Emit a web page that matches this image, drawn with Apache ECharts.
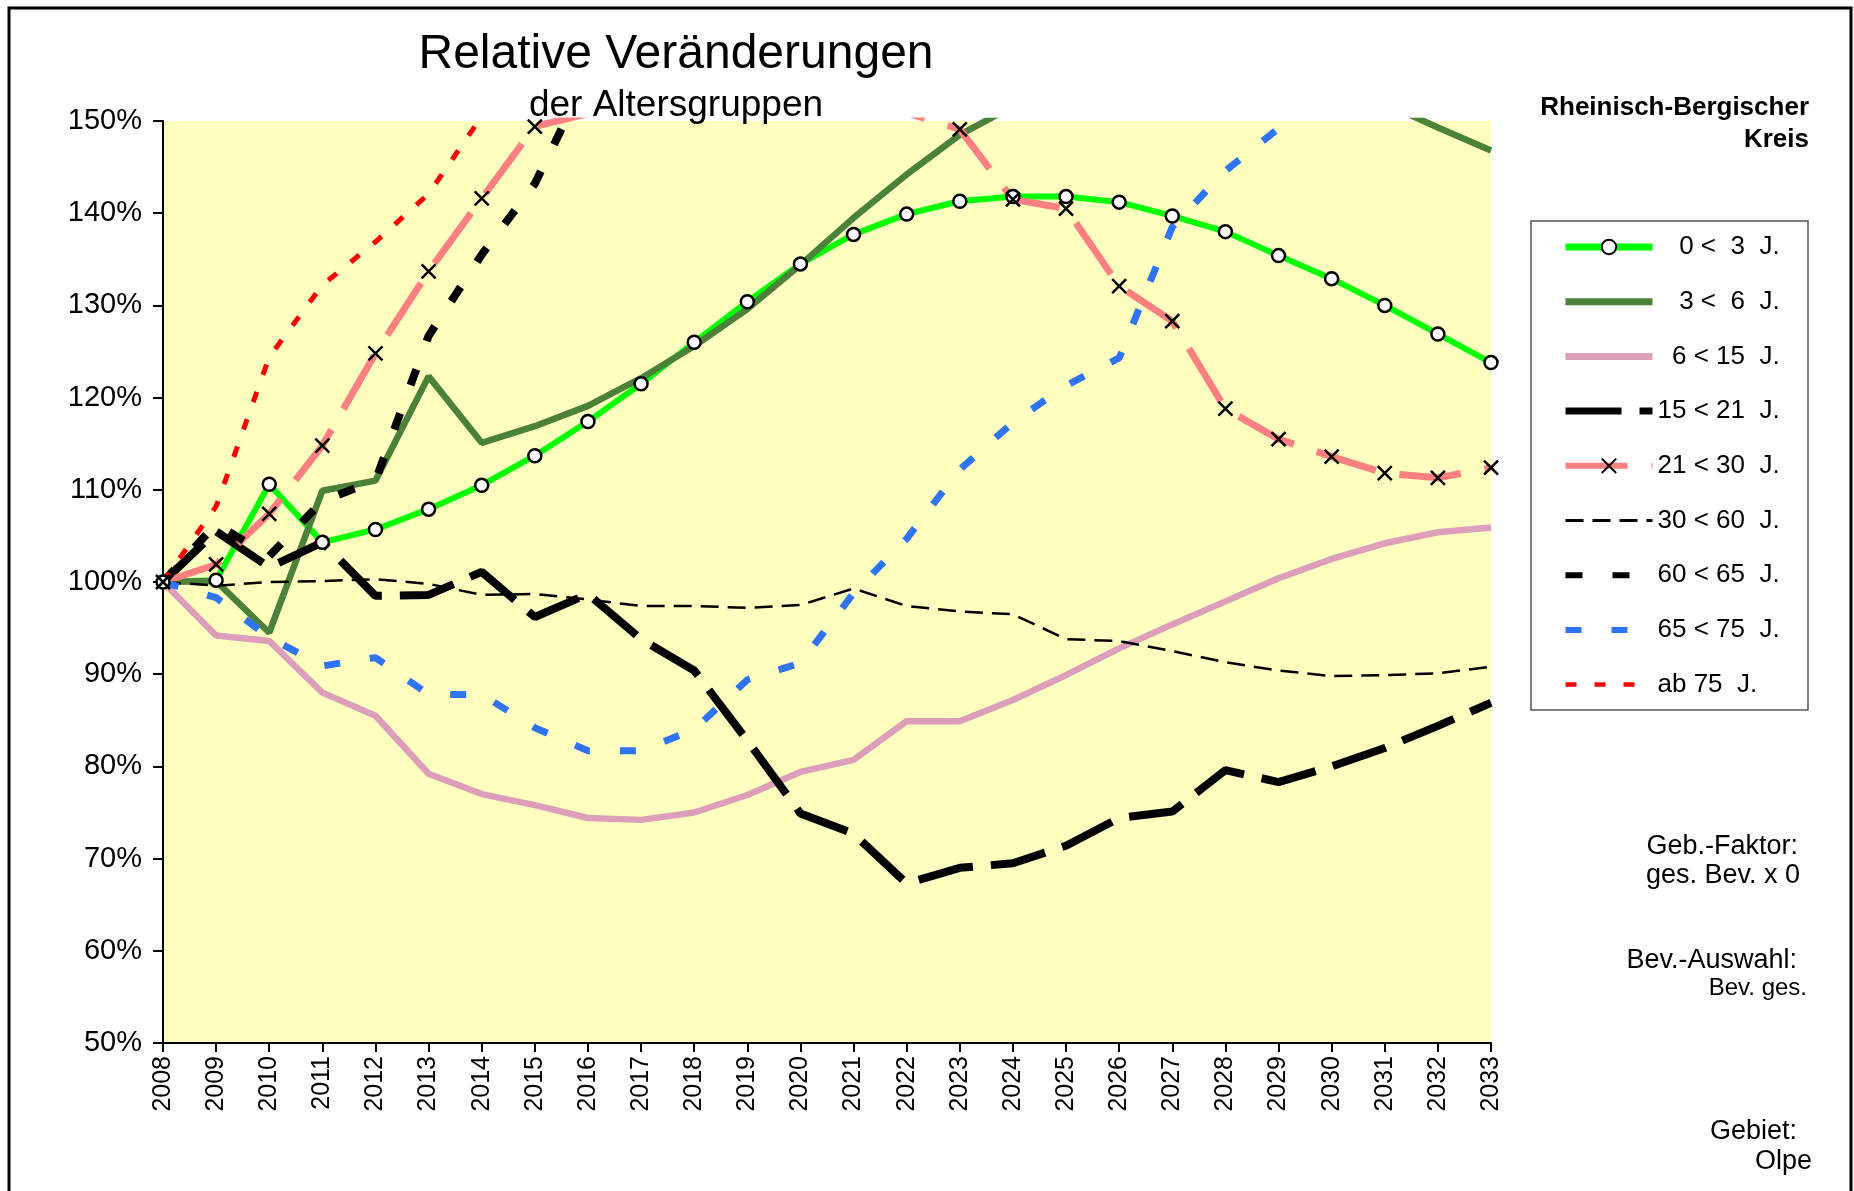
<!DOCTYPE html>
<html>
<head>
    <meta charset="UTF-8">
    <title>Relative Veränderungen der Altersgruppen</title>
    <script src="https://cdn.jsdelivr.net/npm/echarts@6/dist/echarts.min.js"></script>
    <style>
        *{margin:0;padding:0;}
        body,html{width:100%;height:100%;background:#fff;}
        #main{width:1854px;height:1191px;}
    </style>
</head>
<body>
<div id="main"></div>
<script>
    // Jahre
    var years = ['2008','2009','2010','2011','2012','2013','2014','2015','2016','2017','2018','2019','2020',
        '2021','2022','2023','2024','2025','2026','2027','2028','2029','2030','2031','2032','2033'];

    // relative Veraenderung in % (2008 = 100)
    var alter_0_3   = [100, 100.2, 110.6, 104.3, 105.7, 107.9, 110.5, 113.7, 117.4, 121.5, 126.0, 130.4, 134.5,
        137.7, 139.9, 141.3, 141.8, 141.8, 141.2, 139.7, 138.0, 135.4, 132.9, 130.0, 126.9, 123.8];
    var alter_3_6   = [100, 100.1, 94.5, 109.9, 111.0, 122.3, 115.1, 116.9, 119.1, 122.1, 125.6, 129.6, 134.4,
        139.5, 144.2, 148.5, 151.6, 153.5, 155.0, 155.5, 155.3, 154.6, 153.4, 151.9, 149.3, 146.8];
    var alter_6_15  = [100, 94.2, 93.6, 88.0, 85.5, 79.2, 77.0, 75.8, 74.4, 74.2, 75.0, 76.9, 79.4,
        80.7, 84.9, 84.9, 87.2, 89.9, 92.8, 95.4, 97.9, 100.4, 102.5, 104.2, 105.4, 105.9];
    var alter_15_21 = [100, 105.5, 101.6, 104.3, 98.5, 98.6, 101.1, 96.2, 98.7, 93.8, 90.4, 82.8, 74.9,
        72.7, 67.3, 69.0, 69.5, 71.4, 74.4, 75.1, 79.6, 78.3, 80.0, 82.0, 84.4, 86.9];
    var alter_21_30 = [100, 101.9, 107.4, 114.8, 124.8, 133.7, 141.6, 149.4, 150.8, 153.0, 155.0, 156.0, 155.5,
        153.5, 150.9, 149.1, 141.5, 140.5, 132.1, 128.3, 118.8, 115.5, 113.6, 111.8, 111.3, 112.4];
    var alter_30_60 = [100, 99.6, 100.0, 100.1, 100.3, 99.8, 98.6, 98.7, 98.1, 97.4, 97.4, 97.2, 97.5,
        99.3, 97.4, 96.8, 96.5, 93.8, 93.6, 92.5, 91.3, 90.4, 89.8, 89.9, 90.1, 90.8];
    var alter_60_65 = [100, 106.3, 102.8, 108.8, 111.0, 126.7, 135.5, 143.2, 155, 160, 164, 167, 169,
        171, 172, 173, 174, 175, 175, 176, 176, 177, 177, 178, 178, 178];
    var alter_65_75 = [100, 98.3, 94.0, 90.9, 91.8, 87.8, 87.8, 84.2, 81.7, 81.7, 84.0, 89.4, 91.2,
        98.8, 104.7, 112.2, 117.3, 121.3, 124.3, 138.5, 144.6, 149.2, 154, 158, 161, 164];
    var alter_ab_75 = [100, 108.2, 124.4, 132.2, 136.9, 142.1, 150.5, 158, 164, 169, 173, 176, 178,
        180, 182, 184, 186, 188, 190, 191, 192, 193, 194, 195, 196, 197];

    var yTicks = [50, 150, 10];

    // Legendentexte
    var legendLabels = {
        '0 < 3 J.':   '   0 <  3  J.',
        '3 < 6 J.':   '   3 <  6  J.',
        '6 < 15 J.':  '  6 < 15  J.',
        '15 < 21 J.': '15 < 21  J.',
        '21 < 30 J.': '21 < 30  J.',
        '30 < 60 J.': '30 < 60  J.',
        '60 < 65 J.': '60 < 65  J.',
        '65 < 75 J.': '65 < 75  J.',
        'ab 75 J.':   'ab 75  J.'
    };

    var FONT = '"Liberation Sans", Arial, Helvetica, sans-serif';
    var CROSS = 'path://M0,0L10,10M10,0L0,10';

    function linie(name, data, color, width, dash, symbol) {
        var s = {
            name: name,
            type: 'line',
            data: data,
            clip: true,
            silent: true,
            animation: false,
            symbol: 'none',
            lineStyle: {color: color, width: width, type: dash || 'solid'},
            itemStyle: {color: color}
        };
        if (symbol) {
            s.symbol = symbol;
            s.symbolSize = symbol === CROSS ? 14 : 13;
            s.showSymbol = true;
            s.itemStyle = {color: '#fff', borderColor: '#000', borderWidth: 2.5};
        }
        return s;
    }

    function legendItem(name, width, withSymbol) {
        var d = {name: name, lineStyle: {width: width}};
        if (!withSymbol) d.itemStyle = {opacity: 0};
        return d;
    }

    function txt(text, x, y, size, align, bold) {
        return {
            type: 'text', x: x, y: y, silent: true,
            style: {
                text: text, fill: '#000',
                font: (bold ? 'bold ' : '') + size + 'px ' + FONT,
                align: align, verticalAlign: 'middle',
                textAlign: align, textVerticalAlign: 'middle'
            }
        };
    }

    var myChart = echarts.init(document.getElementById('main'));

    var option = {
        backgroundColor: '#fff',
        animation: false,
        grid: {
            left: 163, top: 121, width: 1328, height: 922,
            show: true, backgroundColor: '#FFFFC0', borderWidth: 0
        },
        xAxis: {
            type: 'category',
            data: years,
            boundaryGap: false,
            axisLine: {lineStyle: {color: '#000', width: 2}},
            axisTick: {show: true, length: 9, lineStyle: {color: '#000', width: 2}},
            axisLabel: {rotate: 90, margin: 13, color: '#000', fontSize: 25, fontFamily: FONT},
            splitLine: {show: false}
        },
        yAxis: {
            type: 'value',
            min: yTicks[0], max: yTicks[1], interval: yTicks[2],
            axisLine: {show: true, lineStyle: {color: '#000', width: 2}},
            axisTick: {show: true, length: 10, lineStyle: {color: '#000', width: 2}},
            axisLabel: {formatter: '{value}%', margin: 21, color: '#000', fontSize: 29, fontFamily: FONT},
            splitLine: {show: false}
        },
        legend: {
            orient: 'vertical',
            left: 1562, top: 234,
            padding: 0,
            itemWidth: 87, itemHeight: 18, itemGap: 28.7,
            selectedMode: false,
            textStyle: {color: '#000', fontSize: 26, fontFamily: FONT},
            formatter: function (name) { return legendLabels[name]; },
            data: [
                legendItem('0 < 3 J.', 7, true),
                legendItem('3 < 6 J.', 7, false),
                legendItem('6 < 15 J.', 7, false),
                legendItem('15 < 21 J.', 7, false),
                legendItem('21 < 30 J.', 6, true),
                legendItem('30 < 60 J.', 3, false),
                legendItem('60 < 65 J.', 6, false),
                legendItem('65 < 75 J.', 6, false),
                legendItem('ab 75 J.', 4.5, false)
            ]
        },
        graphic: [
            // Rahmen
            {type: 'rect', silent: true, shape: {x: 9, y: 8, width: 1842, height: 1260},
                style: {fill: 'none', stroke: '#000', lineWidth: 3}},
            {type: 'rect', silent: true, shape: {x: 1531, y: 221, width: 277, height: 489},
                style: {fill: '#fff', stroke: '#555', lineWidth: 1.5}, z: -1},
            txt('Relative Veränderungen', 676, 55, 48, 'center'),
            txt('der Altersgruppen', 676, 106, 37, 'center'),
            txt('Rheinisch-Bergischer', 1809, 108, 26, 'right', true),
            txt('Kreis', 1809, 140, 26, 'right', true),
            txt('Geb.-Faktor:', 1798, 847, 27, 'right'),
            txt('ges. Bev. x 0', 1800, 876, 27, 'right'),
            txt('Bev.-Auswahl:', 1797, 961, 27, 'right'),
            txt('Bev. ges.', 1807, 988, 24, 'right'),
            txt('Gebiet:', 1797, 1132, 27, 'right'),
            txt('Olpe', 1812, 1162, 27, 'right')
        ],
        series: [
            linie('0 < 3 J.', alter_0_3, '#00FF00', 6, 'solid', 'circle'),
            linie('3 < 6 J.', alter_3_6, '#4B8139', 6.5),
            linie('6 < 15 J.', alter_6_15, '#DC9EB9', 6.5),
            linie('15 < 21 J.', alter_15_21, '#000000', 8, [56, 18]),
            linie('21 < 30 J.', alter_21_30, '#FF8080', 7, [62, 24], CROSS),
            linie('30 < 60 J.', alter_30_60, '#000000', 2.5, [18, 9]),
            linie('60 < 65 J.', alter_60_65, '#000000', 8, [17, 30]),
            linie('65 < 75 J.', alter_65_75, '#2E74F5', 7, [16, 30]),
            linie('ab 75 J.', alter_ab_75, '#FF0000', 5, [11, 18])
        ]
    };

    myChart.setOption(option);
</script>
</body>
</html>
